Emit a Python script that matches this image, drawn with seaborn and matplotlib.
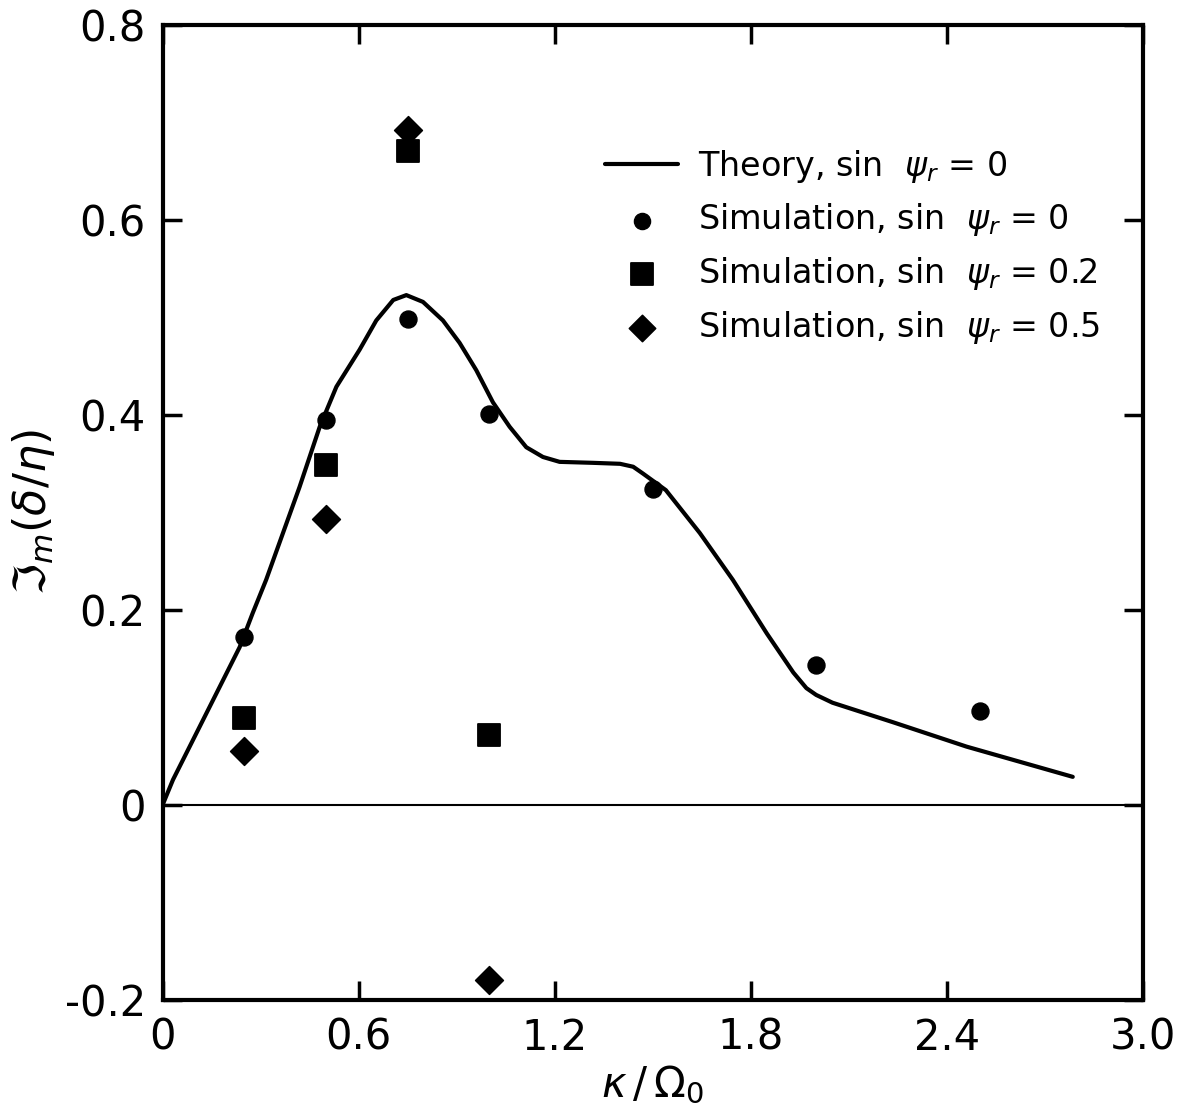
import matplotlib
matplotlib.use("Agg")
import matplotlib.pyplot as plt
import seaborn as sns

# theory curve, sin psi_r = 0
theory_x = [0.0, 0.032, 0.083, 0.134, 0.185, 0.236, 0.276, 0.317, 0.419,
            0.481, 0.532, 0.603, 0.654, 0.706, 0.746, 0.797, 0.858, 0.909, 0.960,
            1.011, 1.062, 1.113, 1.164, 1.215, 1.317, 1.40, 1.44, 1.47, 1.54,
            1.644, 1.745, 1.849, 1.93, 1.97, 2.0, 2.05, 2.235, 2.46, 2.785]
theory_y = [0.0, 0.026, 0.060, 0.094, 0.128, 0.162, 0.197, 0.231, 0.326,
            0.388, 0.429, 0.467, 0.497, 0.518, 0.523, 0.516, 0.497, 0.474, 0.446,
            0.413, 0.388, 0.367, 0.357, 0.352, 0.351, 0.350, 0.347, 0.340, 0.323,
            0.279, 0.231, 0.176, 0.136, 0.120, 0.113, 0.105, 0.085, 0.060, 0.029]

# simulations
sim0_x = [0.25, 0.5, 0.75, 1.0, 1.5, 2.0, 2.5]
sim0_y = [0.172, 0.395, 0.498, 0.401, 0.324, 0.144, 0.097]
sim2_x = [0.25, 0.5, 0.75, 1.0]
sim2_y = [0.089, 0.349, 0.671, 0.072]
sim5_x = [0.25, 0.5, 0.75, 1.0]
sim5_y = [0.056, 0.293, 0.692, -0.179]

xticks = [0, 0.6, 1.2, 1.8, 2.4, 3.0]
xticklabels = ["0", "0.6", "1.2", "1.8", "2.4", "3.0"]
yticks = [-0.2, 0, 0.2, 0.4, 0.6, 0.8]
yticklabels = ["-0.2", "0", "0.2", "0.4", "0.6", "0.8"]

sns.set_style("ticks", rc={"text.color": "black", "axes.labelcolor": "black",
                           "xtick.color": "black", "ytick.color": "black",
                           "axes.edgecolor": "black"})
plt.rcParams["font.family"] = ["DejaVu Sans"]
plt.rcParams["mathtext.fontset"] = "dejavusans"

fig = plt.figure(figsize=(11.95, 11.2), dpi=100)
ax = fig.add_axes([0.136, 0.107, 0.8205, 0.8707])

ax.axhline(0, color="black", lw=1.5, zorder=1)

sns.lineplot(x=theory_x, y=theory_y, ax=ax, color="black", lw=3,
             label=r"Theory, sin  $\psi_r$ = 0", sort=False)
ax.lines[-1].set_solid_joinstyle("round")
sns.scatterplot(x=sim0_x, y=sim0_y, ax=ax, color="black", marker="o", s=150,
                edgecolor="black", label=r"Simulation, sin  $\psi_r$ = 0", zorder=3)
sns.scatterplot(x=sim2_x, y=sim2_y, ax=ax, color="black", marker="s", s=270,
                edgecolor="black", label=r"Simulation, sin  $\psi_r$ = 0.2", zorder=3)
sns.scatterplot(x=sim5_x, y=sim5_y, ax=ax, color="black", marker="D", s=200,
                edgecolor="black", label=r"Simulation, sin  $\psi_r$ = 0.5", zorder=3)

ax.set_xlim(0, 3.0)
ax.set_ylim(-0.2, 0.8)
ax.set_xticks(xticks)
ax.set_xticklabels(xticklabels)
ax.set_yticks(yticks)
ax.set_yticklabels(yticklabels)
ax.tick_params(direction="in", length=14, width=2.5, labelsize=30,
               top=True, right=True, pad=12)
for sp in ax.spines.values():
    sp.set_linewidth(3)

ax.set_xlabel(r"$\kappa\,/\,\Omega_0$", fontsize=30, labelpad=4)
ax.set_ylabel(r"$\Im_m(\delta/\eta)$", fontsize=32)
ax.yaxis.set_label_coords(-0.108, 0.5)

ax.legend(loc="upper right", bbox_to_anchor=(0.987, 0.905), frameon=False,
          fontsize=24, handlelength=2.2, handletextpad=0.6,
          labelspacing=0.5, markerscale=0.95)

fig.savefig("out.png", dpi=100)
